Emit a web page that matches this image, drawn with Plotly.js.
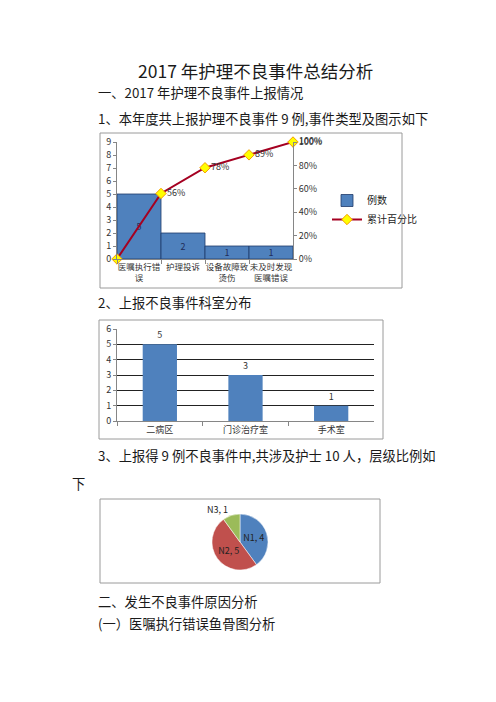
<!DOCTYPE html>
<html>
<head>
<meta charset="utf-8">
<script src="https://cdn.plot.ly/plotly-3.0.1.min.js"></script>
<style>
body{margin:0;padding:0;background:#fff;}
#page{width:496px;height:702px;}
</style>
</head>
<body>
<div id="page"></div>
<script>
// ---- chart 1 : event types (pareto)
var typeNames = ['医嘱执行错<br>误', '护理投诉', '设备故障致<br>烫伤', '未及时发现<br>医嘱错误'];
var typeCounts = [5, 2, 1, 1];
var cumPct = [0, 0.56, 0.78, 0.89, 1.00];

// ---- chart 2 : departments
var deptNames = ['二病区', '门诊治疗室', '手术室'];
var deptCounts = [5, 3, 1];

// ---- chart 3 : nurse levels
var levelNames = ['N1', 'N2', 'N3'];
var levelCounts = [4, 5, 1];

var cjk = 'Noto Sans CJK SC, sans-serif';
var tickFont = {family: cjk, size: 9, color: '#333'};

// px -> paper helpers
function px(x){ return x/496; }
function py(y){ return 1 - y/702; }

var bars1 = {
  x: typeNames,
  y: typeCounts,
  type: 'bar',
  name: '例数',
  width: 1,
  marker: {color: '#4f81bd', line: {color: '#1f3a6a', width: 0.8}},
  text: typeCounts.map(String),
  textposition: 'inside',
  insidetextanchor: 'middle',
  textangle: 0,
  constraintext: 'none',
  textfont: {family: cjk, size: 9, color: '#1f2d5a'},
  xaxis: 'x', yaxis: 'y',
  hoverinfo: 'skip'
};

var line1 = {
  x: cumPct.map(function(v, i){ return i; }),
  y: cumPct,
  type: 'scatter',
  mode: 'lines+markers+text',
  name: '累计百分比',
  line: {color: '#a50021', width: 2},
  marker: {symbol: 'diamond', size: 8, color: '#ffff00', line: {color: '#f59d00', width: 1}},
  text: cumPct.map(function(v){ return v > 0 ? Math.round(v*100) + '%' : ''; }),
  textposition: 'middle right',
  textfont: {family: cjk, size: 9, color: '#333'},
  cliponaxis: false,
  xaxis: 'x2', yaxis: 'y2',
  hoverinfo: 'skip'
};

var bars2 = {
  x: deptNames,
  y: deptCounts,
  type: 'bar',
  width: 0.4,
  marker: {color: '#4f81bd'},
  text: deptCounts.map(String),
  textposition: 'outside',
  textangle: 0,
  textfont: {family: cjk, size: 9, color: '#333'},
  cliponaxis: false,
  xaxis: 'x3', yaxis: 'y3',
  showlegend: false,
  hoverinfo: 'skip'
};

var pie3 = {
  type: 'pie',
  labels: levelNames,
  values: levelCounts,
  sort: false,
  direction: 'clockwise',
  rotation: 0,
  marker: {colors: ['#4f81bd', '#c0504d', '#9bbb59'], line: {color: '#fff', width: 0.5}},
  texttemplate: '%{label}, %{value}',
  textposition: ['inside', 'inside', 'outside'],
  insidetextorientation: 'horizontal',
  textfont: {family: cjk, size: 9, color: '#222'},
  domain: {x: [px(212), px(268)], y: [py(570), py(514)]},
  showlegend: false,
  automargin: false,
  hoverinfo: 'skip'
};

function txt(x, y, s, size, anchor){
  return {xref: 'paper', yref: 'paper', x: x, y: y, text: s, showarrow: false,
    xanchor: anchor || 'left', yanchor: 'middle',
    font: {family: cjk, size: size, color: '#1a1a1a'}};
}

var layout = {
  width: 496, height: 702,
  margin: {l: 0, r: 0, t: 0, b: 0},
  paper_bgcolor: '#fff', plot_bgcolor: 'rgba(0,0,0,0)',
  font: {family: cjk},
  showlegend: true,
  legend: {x: px(327), y: py(210), xanchor: 'left', yanchor: 'middle',
    font: {family: cjk, size: 10, color: '#222'}, bgcolor: 'rgba(0,0,0,0)',
    itemwidth: 30, tracegroupgap: 0},
  xaxis: {domain: [px(117), px(293)], anchor: 'y', type: 'category',
    range: [-0.5, 3.5], tickson: 'boundaries', ticks: 'outside', ticklen: 4,
    tickangle: 0, tickcolor: '#868686', showline: true, linecolor: '#868686',
    showgrid: false, tickfont: {family: cjk, size: 8.5, color: '#333'}, fixedrange: true},
  yaxis: {domain: [py(259), py(142)], anchor: 'x', range: [0, 9], dtick: 1,
    ticks: 'outside', ticklen: 3, tickcolor: '#868686', showline: true,
    linecolor: '#868686', showgrid: false, zeroline: false, tickfont: tickFont},
  xaxis2: {overlaying: 'x', anchor: 'y', range: [0, 4], visible: false},
  yaxis2: {overlaying: 'y', side: 'right', anchor: 'x', range: [0, 1], dtick: 0.2,
    tickformat: '.0%', ticks: 'outside', ticklen: 3, tickcolor: '#868686',
    showline: true, linecolor: '#868686', showgrid: false, zeroline: false,
    tickfont: tickFont},
  xaxis3: {domain: [px(117), px(374)], anchor: 'y3', type: 'category',
    range: [-0.5, 2.5], tickson: 'boundaries', ticks: 'outside', ticklen: 4,
    tickangle: 0, tickcolor: '#868686', showline: true, linecolor: '#868686',
    showgrid: false, tickfont: tickFont},
  yaxis3: {domain: [py(421), py(329)], anchor: 'x3', range: [0, 6], dtick: 1,
    ticks: 'outside', ticklen: 3, tickcolor: '#868686', showline: true,
    linecolor: '#868686', showgrid: true, gridcolor: '#222', gridwidth: 1,
    zeroline: false, tickfont: tickFont},
  shapes: [
    {type: 'rect', xref: 'paper', yref: 'paper', x0: px(100), x1: px(402), y0: py(288), y1: py(133),
      line: {color: '#9a9a9a', width: 1}, layer: 'below'},
    {type: 'rect', xref: 'paper', yref: 'paper', x0: px(99), x1: px(383), y0: py(439), y1: py(320),
      line: {color: '#9a9a9a', width: 1}, layer: 'below'},
    {type: 'rect', xref: 'paper', yref: 'paper', x0: px(100), x1: px(380), y0: py(583), y1: py(499),
      line: {color: '#9a9a9a', width: 1}, layer: 'below'}
  ],
  annotations: [
    txt(px(255), py(70), '2017 年护理不良事件总结分析', 17.5, 'center'),
    txt(px(96), py(93), '一、2017 年护理不良事件上报情况', 13.3),
    txt(px(96), py(118), '1、本年度共上报护理不良事件 9 例,事件类型及图示如下', 13.3),
    txt(px(96), py(302), '2、上报不良事件科室分布', 13.3),
    txt(px(96), py(455), '3、上报得 9 例不良事件中,共涉及护士 10 人，层级比例如', 13.3),
    txt(px(70), py(483), '下', 13.3),
    txt(px(96), py(601), '二、发生不良事件原因分析', 13.3),
    txt(px(96), py(623), '(一）医嘱执行错误鱼骨图分析', 13.3)
  ]
};

Plotly.newPlot('page', [bars1, line1, bars2, pie3], layout, {displayModeBar: false, staticPlot: true});
</script>
</body>
</html>
